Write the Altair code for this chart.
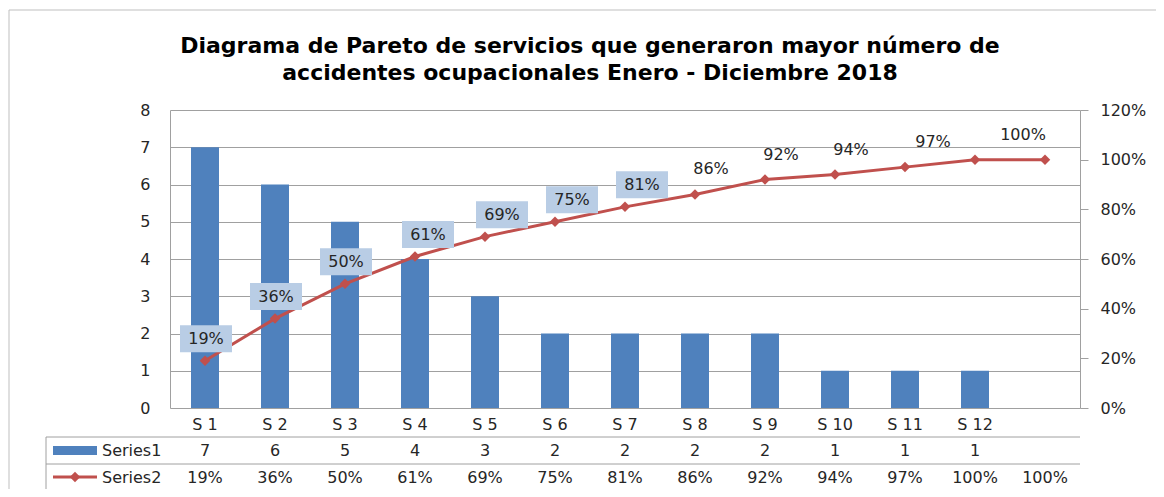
import altair as alt
import pandas as pd

categories = ["S 1", "S 2", "S 3", "S 4", "S 5", "S 6", "S 7", "S 8", "S 9", "S 10", "S 11", "S 12", " "]
counts = [7, 6, 5, 4, 3, 2, 2, 2, 2, 1, 1, 1, None]
cum_pct = [0.19, 0.36, 0.50, 0.61, 0.69, 0.75, 0.81, 0.86, 0.92, 0.94, 0.97, 1.00, 1.00]
series1_row = ["7", "6", "5", "4", "3", "2", "2", "2", "2", "1", "1", "1", ""]
series2_row = ["19%", "36%", "50%", "61%", "69%", "75%", "81%", "86%", "92%", "94%", "97%", "100%", "100%"]
left_ticks = [0, 1, 2, 3, 4, 5, 6, 7, 8]
right_ticks = [0, 0.2, 0.4, 0.6, 0.8, 1.0, 1.2]
title_lines = ["Diagrama de Pareto de servicios que generaron mayor número de",
               "accidentes ocupacionales Enero - Diciembre 2018"]

df = pd.DataFrame({
    "idx": list(range(len(categories))),
    "cat": categories,
    "count": counts,
    "pct": cum_pct,
    "s1": series1_row,
    "s2": series2_row,
})

FONT = "DejaVu Sans"
TXT = "#262626"
GRID = "#A0A0A0"
BAR = "#4F81BD"
LINE = "#C0504D"
BOX = "#B9CDE5"
W, H = 910, 298
HALF_BAND = W / len(categories) / 2

base = alt.Chart(df)
xenc = alt.X("cat:N", sort=categories, scale=alt.Scale(paddingInner=0, paddingOuter=0), axis=None)
xaxis = alt.X("cat:N", sort=categories, scale=alt.Scale(paddingInner=0, paddingOuter=0),
              axis=alt.Axis(title=None, labels=False, tickBand="extent", tickSize=83,
                            tickColor=GRID, domainColor=GRID, orient="bottom"))

bars = base.mark_bar(color=BAR, size=28).encode(
    x=xaxis,
    y=alt.Y("count:Q", scale=alt.Scale(domain=[0, 8]),
            axis=alt.Axis(title=None, values=left_ticks, ticks=False, labelPadding=20,
                          grid=True, gridColor=GRID, domainColor=GRID,
                          labelFont=FONT, labelFontSize=16, labelColor=TXT)),
)

yp = alt.Scale(domain=[0, 1.2])
line = base.mark_line(color=LINE, strokeWidth=3).encode(
    x=xenc,
    y=alt.Y("pct:Q", scale=yp,
            axis=alt.Axis(title=None, orient="right", values=right_ticks, format=".0%",
                          tickSize=8, tickColor=GRID, domainColor=GRID, grid=False,
                          labelPadding=12, labelFont=FONT, labelFontSize=16, labelColor=TXT)),
)
pts = base.mark_point(shape="diamond", filled=True, color=LINE, size=110, opacity=1).encode(
    x=xenc, y=alt.Y("pct:Q", scale=yp, axis=None))


def label_layer(lo, hi, dx, boxed):
    sub = base.transform_filter((alt.datum.idx >= lo) & (alt.datum.idx <= hi))
    dy = -22 if boxed else -25
    off = dx + HALF_BAND
    layers = []
    if boxed:
        layers.append(sub.mark_point(shape="M-1,-0.52H1V0.52H-1Z", filled=True, color=BOX,
                                     size=2704, opacity=1).encode(
            x=xenc, y=alt.Y("pct:Q", scale=yp, axis=None),
            xOffset=alt.value(off), yOffset=alt.value(dy)))
    layers.append(sub.mark_text(font=FONT, fontSize=16, color=TXT, baseline="middle").encode(
        x=xenc, y=alt.Y("pct:Q", scale=yp, axis=None), text="s2:N",
        xOffset=alt.value(off), yOffset=alt.value(dy)))
    return layers


labels = []
labels += label_layer(0, 2, 1, True)
labels += label_layer(3, 3, 13, True)
labels += label_layer(4, 6, 17, True)
labels += label_layer(7, 9, 16, False)
labels += label_layer(10, 10, 28, False)
labels += label_layer(11, 11, 48, False)

one = alt.Chart(pd.DataFrame({"k": [0]}))

# outer chart frame
frame = one.mark_rect(fill=None, stroke="#BFBFBF", strokeWidth=1).encode(
    x=alt.value(-161), x2=alt.value(1000), y=alt.value(-100), y2=alt.value(400))

# title (two lines)
title1 = one.mark_text(font=FONT, fontSize=22, fontWeight="bold", color="#000000",
                       baseline="middle", text=title_lines[0]).encode(
    x=alt.value(420), y=alt.value(-64))
title2 = one.mark_text(font=FONT, fontSize=22, fontWeight="bold", color="#000000",
                       baseline="middle", text=title_lines[1]).encode(
    x=alt.value(420), y=alt.value(-37))

# data table
cat_row = base.mark_text(font=FONT, fontSize=16, color=TXT, baseline="middle").encode(
    x=xenc, y=alt.value(315), text="cat:N")
s1_row = base.mark_text(font=FONT, fontSize=16, color=TXT, baseline="middle").encode(
    x=xenc, y=alt.value(341), text="s1:N")
s2_row = base.mark_text(font=FONT, fontSize=16, color=TXT, baseline="middle").encode(
    x=xenc, y=alt.value(368), text="s2:N")

hlines = alt.Chart(pd.DataFrame({"yy": [327, 354, 380]})).mark_rule(color=GRID, strokeWidth=1).encode(
    x=alt.value(-124), x2=alt.value(W), y=alt.Y("yy:Q", scale=None, axis=None))
vline_left = one.mark_rule(color=GRID, strokeWidth=1).encode(
    x=alt.value(-124), y=alt.value(327), y2=alt.value(380))

key1 = one.mark_rect(color=BAR).encode(
    x=alt.value(-117), x2=alt.value(-73), y=alt.value(336), y2=alt.value(345))
key2 = one.mark_rule(color=LINE, strokeWidth=3).encode(
    x=alt.value(-117), x2=alt.value(-73), y=alt.value(367))
key2p = one.mark_point(shape="diamond", filled=True, color=LINE, size=110, opacity=1).encode(
    x=alt.value(-95), y=alt.value(367))
lab1 = one.mark_text(font=FONT, fontSize=16, color=TXT, align="left", baseline="middle",
                     text="Series1").encode(x=alt.value(-68), y=alt.value(341))
lab2 = one.mark_text(font=FONT, fontSize=16, color=TXT, align="left", baseline="middle",
                     text="Series2").encode(x=alt.value(-68), y=alt.value(368))

chart = alt.layer(
    frame, bars, line, pts, *labels,
    hlines, vline_left, cat_row, s1_row, s2_row, key1, key2, key2p, lab1, lab2,
    title1, title2,
).resolve_scale(y="independent").properties(
    width=W, height=H,
    autosize=alt.AutoSizeParams(type="none"),
    padding={"left": 162, "top": 102, "right": 76, "bottom": 81},
).configure_view(stroke=None)

chart.save("out.html", embed_options={"renderer": "svg", "actions": False})
